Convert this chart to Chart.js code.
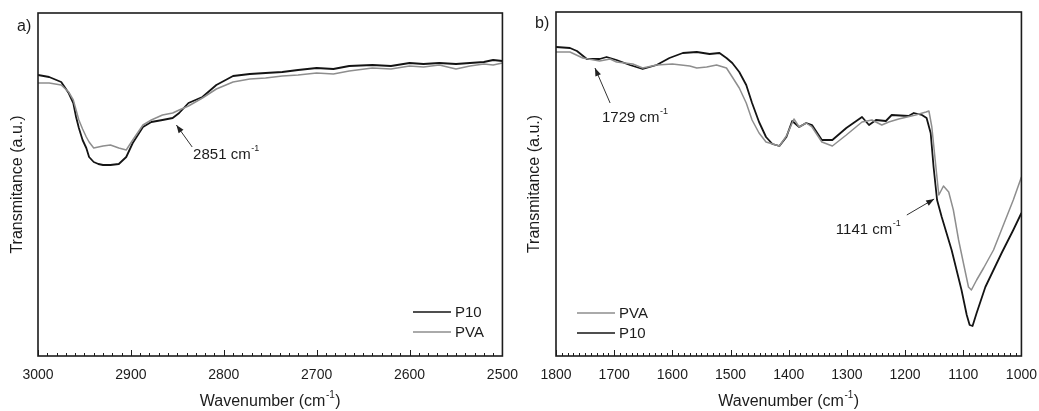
<!DOCTYPE html>
<html>
<head>
<meta charset="utf-8">
<script src="https://cdn.jsdelivr.net/npm/chart.js@4.4.1/dist/chart.umd.min.js"></script>
<style>
  html, body { margin: 0; padding: 0; background: #fff; }
  #wrap { position: relative; width: 1039px; height: 411px; }
  .panel { position: absolute; top: 0; height: 411px; }
</style>
</head>
<body>
<div id="wrap">
  <div class="panel" style="left:0;width:520px"><canvas id="chartA" width="520" height="411"></canvas></div>
  <div class="panel" style="left:520px;width:519px"><canvas id="chartB" width="519" height="411"></canvas></div>
</div>
<script>
// --- Data (arbitrary transmittance units) ---
const aWavenumber = [3000, 2988, 2975, 2967, 2962, 2959, 2956, 2952, 2948, 2945, 2940, 2935, 2930, 2922, 2913, 2905, 2898, 2887, 2878, 2866, 2855, 2848, 2838, 2823, 2808, 2790, 2772, 2755, 2737, 2720, 2700, 2682, 2665, 2640, 2620, 2600, 2585, 2568, 2550, 2535, 2520, 2510, 2500];
const aP10 = [281, 279, 274, 263, 253, 239, 228, 216, 208, 199, 194, 192, 191, 191, 192, 199, 213, 229, 234, 236, 238, 243, 253, 259, 271, 280, 282, 283, 284, 286, 288, 287, 290, 291, 290, 293, 292, 293, 292, 293, 294, 296, 295];
const aPVA = [273, 273, 271, 264, 256, 246, 236, 227, 219, 214, 208, 209, 210, 211, 208, 206, 216, 231, 236, 241, 243, 246, 250, 258, 267, 274, 277, 278, 280, 281, 283, 282, 285, 288, 287, 290, 289, 291, 287, 290, 292, 291, 293];

const bP10Wn = [1800, 1776, 1764, 1747, 1725, 1713, 1696, 1673, 1651, 1627, 1605, 1582, 1558, 1536, 1519, 1507, 1497, 1485, 1473, 1463, 1451, 1439, 1428, 1416, 1404, 1394, 1382, 1370, 1360, 1343, 1325, 1301, 1274, 1262, 1250, 1233, 1223, 1194, 1185, 1171, 1163, 1156, 1151, 1145, 1137, 1120, 1103, 1094, 1089, 1084, 1077, 1062, 1034, 1014, 1000];
const bP10 = [309, 308, 305, 297, 297, 299, 296, 291, 287, 291, 298, 303, 304, 302, 303, 298, 293, 284, 271, 253, 234, 219, 212, 210, 219, 235, 229, 233, 231, 216, 216, 228, 239, 231, 236, 235, 241, 240, 243, 241, 238, 223, 189, 156, 139, 106, 66, 41, 31, 30, 43, 69, 103, 126, 143];
const bPVAWn = [1800, 1776, 1754, 1725, 1707, 1696, 1668, 1651, 1627, 1600, 1570, 1558, 1541, 1524, 1507, 1497, 1485, 1473, 1463, 1451, 1439, 1416, 1404, 1391, 1382, 1370, 1360, 1343, 1325, 1301, 1274, 1257, 1240, 1228, 1211, 1182, 1164, 1159, 1154, 1147, 1142, 1134, 1125, 1117, 1108, 1099, 1091, 1086, 1077, 1065, 1048, 1031, 1014, 1000];
const bPVA = [304, 304, 298, 295, 297, 294, 292, 288, 291, 292, 290, 288, 289, 291, 288, 279, 268, 253, 236, 223, 214, 210, 220, 237, 229, 233, 229, 214, 210, 221, 234, 236, 231, 234, 237, 241, 244, 245, 229, 189, 161, 170, 164, 146, 116, 91, 69, 66, 76, 88, 106, 131, 156, 179];

const aTicks = [3000, 2900, 2800, 2700, 2600, 2500];
const bTicks = [1800, 1700, 1600, 1500, 1400, 1300, 1200, 1100, 1000];

const FONT = "'Liberation Sans', Arial, sans-serif";
const INK = "#1c1c1c";

function pts(xs, ys) { return xs.map((v, i) => ({ x: v, y: ys[i] })); }

// text with a "-1" superscript
function supText(ctx, base, sup, after, x, y, size, align) {
  ctx.font = size + "px " + FONT;
  const wb = ctx.measureText(base).width;
  const wa = ctx.measureText(after).width;
  ctx.font = Math.round(size * 0.62) + "px " + FONT;
  const ws = ctx.measureText(sup).width;
  const total = wb + ws + 1 + wa;
  let x0 = align === "center" ? x - total / 2 : x;
  ctx.textAlign = "left";
  ctx.textBaseline = "middle";
  ctx.font = size + "px " + FONT;
  ctx.fillText(base, x0, y);
  ctx.font = Math.round(size * 0.62) + "px " + FONT;
  ctx.fillText(sup, x0 + wb + 0.5, y - size * 0.42);
  ctx.font = size + "px " + FONT;
  ctx.fillText(after, x0 + wb + ws + 1, y);
}

function arrow(ctx, x1, y1, x2, y2) {
  ctx.beginPath(); ctx.moveTo(x1, y1); ctx.lineTo(x2, y2); ctx.stroke();
  const ang = Math.atan2(y2 - y1, x2 - x1), L = 8, W = 3;
  ctx.beginPath();
  ctx.moveTo(x2, y2);
  ctx.lineTo(x2 - L * Math.cos(ang) + W * Math.sin(ang), y2 - L * Math.sin(ang) - W * Math.cos(ang));
  ctx.lineTo(x2 - L * Math.cos(ang) - W * Math.sin(ang), y2 - L * Math.sin(ang) + W * Math.cos(ang));
  ctx.closePath(); ctx.fill();
}

// --- frame, inward ticks, titles, legend, annotations ---
const decor = {
  id: "decor",
  afterDraw(chart, args, o) {
    const { ctx, chartArea: a, scales: { x, y } } = chart;
    ctx.save();
    ctx.strokeStyle = INK; ctx.fillStyle = INK;
    ctx.lineWidth = 1;
    for (let v = o.xMin; v <= o.xMax; v += 10) {
      const px = Math.round(x.getPixelForValue(v)) + 0.5;
      const len = v % 100 === 0 ? 6 : 3;
      ctx.beginPath(); ctx.moveTo(px, a.bottom); ctx.lineTo(px, a.bottom - len); ctx.stroke();
    }
    ctx.lineWidth = 1.6;
    ctx.strokeRect(a.left, a.top, a.width, a.height);

    // axis titles
    supText(ctx, "Wavenumber (cm", "-1", ")", (a.left + a.right) / 2, 402, 16, "center");
    ctx.save();
    ctx.translate(o.yTitleX, (a.top + a.bottom) / 2);
    ctx.rotate(-Math.PI / 2);
    ctx.font = "16px " + FONT; ctx.textAlign = "center"; ctx.textBaseline = "middle";
    ctx.fillText("Transmitance (a.u.)", 0, 0);
    ctx.restore();

    // panel label
    ctx.font = "16px " + FONT; ctx.textAlign = "left"; ctx.textBaseline = "middle";
    ctx.fillText(o.label, o.labelX, o.labelY);

    // legend
    o.legendOrder.forEach((di, k) => {
      const ds = chart.data.datasets[di];
      const ly = o.legendY + k * 20;
      ctx.strokeStyle = ds.borderColor; ctx.lineWidth = 1.6;
      ctx.beginPath(); ctx.moveTo(o.legendX, ly); ctx.lineTo(o.legendX + 38, ly); ctx.stroke();
      ctx.fillStyle = INK; ctx.font = "15px " + FONT; ctx.textBaseline = "middle";
      ctx.fillText(ds.label, o.legendX + 42, ly + 1);
    });

    // annotations
    ctx.strokeStyle = "#333"; ctx.fillStyle = "#222"; ctx.lineWidth = 1;
    o.notes.forEach(n => {
      arrow(ctx, x.getPixelForValue(n.tail[0]), y.getPixelForValue(n.tail[1]),
        x.getPixelForValue(n.tip[0]), y.getPixelForValue(n.tip[1]));
      ctx.fillStyle = INK;
      supText(ctx, n.text, "-1", "", x.getPixelForValue(n.at[0]), y.getPixelForValue(n.at[1]), 15, "left");
    });
    ctx.restore();
  }
};

function makeChart(id, sets, xMin, xMax, yMax, ticks, pad, decorOpts) {
  return new Chart(document.getElementById(id), {
    type: "scatter",
    data: { datasets: sets },
    options: {
      responsive: false,
      animation: false,
      devicePixelRatio: 1,
      layout: { padding: pad },
      plugins: { legend: { display: false }, tooltip: { enabled: false }, decor: Object.assign({ xMin, xMax }, decorOpts) },
      elements: { point: { radius: 0 }, line: { tension: 0, borderJoinStyle: "round" } },
      scales: {
        x: {
          type: "linear", reverse: true, min: xMin, max: xMax,
          afterBuildTicks: s => { s.ticks = ticks.map(v => ({ value: v })); },
          afterFit: s => { s.height = 55; },
          // invisible tick marks only push the labels down; real ticks are drawn inward by the plugin
          grid: { display: true, drawOnChartArea: false, drawTicks: true, tickLength: 9, color: "rgba(0,0,0,0)" },
          border: { display: false },
          ticks: { color: INK, padding: 2, font: { size: 14, family: FONT }, maxRotation: 0, callback: v => String(v) }
        },
        y: { display: false, min: 0, max: yMax }
      }
    },
    plugins: [decor]
  });
}

makeChart("chartA", [
  { label: "PVA", data: pts(aWavenumber, aPVA), showLine: true, borderColor: "#8e8e8e", borderWidth: 1.5 },
  { label: "P10", data: pts(aWavenumber, aP10), showLine: true, borderColor: "#141414", borderWidth: 1.8 }
], 2500, 3000, 343, aTicks, { left: 38, right: 17, top: 13, bottom: 0 }, {
  yTitleX: 18, label: "a)", labelX: 17, labelY: 27,
  legendX: 413, legendY: 312, legendOrder: [1, 0],
  notes: [{ text: "2851 cm", tip: [2851, 231], tail: [2834, 209], at: [2833, 201] }]
});

makeChart("chartB", [
  { label: "PVA", data: pts(bPVAWn, bPVA), showLine: true, borderColor: "#8e8e8e", borderWidth: 1.5 },
  { label: "P10", data: pts(bP10Wn, bP10), showLine: true, borderColor: "#141414", borderWidth: 1.8 }
], 1000, 1800, 344, bTicks, { left: 36, right: 16, top: 12, bottom: 0 }, {
  yTitleX: 15, label: "b)", labelX: 15, labelY: 24,
  legendX: 57, legendY: 313, legendOrder: [0, 1],
  notes: [
    { text: "1729 cm", tip: [1733, 288], tail: [1707, 253], at: [1721, 238] },
    { text: "1141 cm", tip: [1150, 157], tail: [1197, 141], at: [1319, 126] }
  ]
});
</script>
</body>
</html>
